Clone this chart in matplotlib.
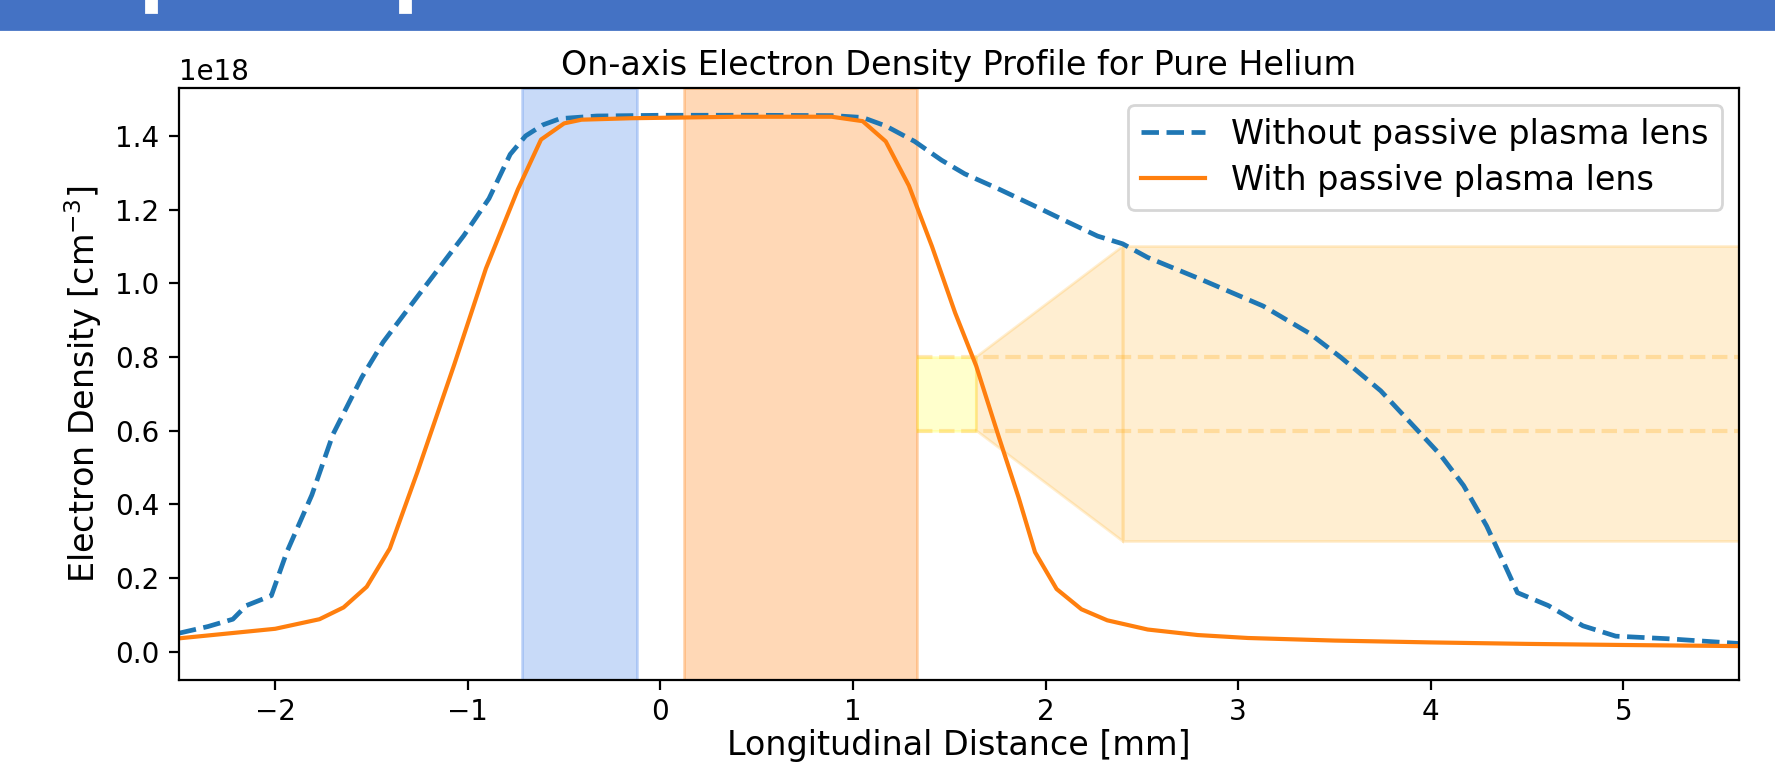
import numpy as np
import matplotlib
matplotlib.use("Agg")
import matplotlib.pyplot as plt
from matplotlib.patches import Polygon, Rectangle

# densities in units of 1e18 cm^-3, distance in mm
x_without = [-2.5, -2.35, -2.22, -2.15, -2.02, -1.94, -1.81, -1.70, -1.55, -1.44,
             -1.26, -1.02, -0.89, -0.78, -0.70, -0.61, -0.52, -0.33, 0.0, 0.5,
             0.9, 1.05, 1.17, 1.32, 1.46, 1.58, 1.76, 1.93, 2.10, 2.27,
             2.40, 2.53, 2.80, 3.13, 3.37, 3.53, 3.74, 3.92, 4.05, 4.17,
             4.29, 4.38, 4.45, 4.61, 4.79, 4.96, 5.23, 5.6]
n_without = [0.050, 0.068, 0.088, 0.125, 0.152, 0.27, 0.425, 0.59, 0.745, 0.84,
             0.965, 1.13, 1.23, 1.35, 1.40, 1.43, 1.447, 1.454, 1.456, 1.456,
             1.455, 1.450, 1.427, 1.385, 1.334, 1.297, 1.255, 1.213, 1.17, 1.128,
             1.107, 1.07, 1.012, 0.938, 0.864, 0.80, 0.708, 0.607, 0.534, 0.451,
             0.341, 0.24, 0.16, 0.125, 0.07, 0.042, 0.035, 0.022]

x_with = [-2.5, -2.0, -1.77, -1.645, -1.525, -1.405, -1.26, -1.07, -0.906, -0.74,
          -0.62, -0.50, -0.41, -0.15, 0.4, 0.89, 1.05, 1.17, 1.29, 1.41,
          1.53, 1.64, 1.755, 1.86, 1.945, 2.057, 2.186, 2.32, 2.53, 2.79,
          3.05, 3.5, 4.0, 4.5, 5.0, 5.6]
n_with = [0.036, 0.062, 0.088, 0.12, 0.176, 0.28, 0.49, 0.78, 1.04, 1.255,
          1.39, 1.434, 1.444, 1.448, 1.452, 1.452, 1.44, 1.385, 1.265, 1.10,
          0.92, 0.775, 0.586, 0.418, 0.27, 0.17, 0.115, 0.085, 0.06, 0.045,
          0.037, 0.030, 0.025, 0.021, 0.018, 0.015]

# shaded regions
blue_span = (-0.72, -0.12)
orange_span = (0.12, 1.33)
yellow_x = (1.33, 1.64)
beam_y = (0.6, 0.8)
cone_x = (1.64, 2.4)
wide_y = (0.3, 1.1)

scale = 1e18

fig = plt.figure(figsize=(8.875, 3.84), dpi=200)
ax = fig.add_axes([0.1008, 0.1146, 0.8789, 0.7708])

# slide header strip
fig.patches.append(Rectangle((0, 1 - 29/768), 1, 29/768, transform=fig.transFigure,
                             color="#4472c4", zorder=0))
for mx in [146, 400]:
    fig.patches.append(Rectangle((mx/1775, 1 - 12/768), 10/1775, 12/768,
                                 transform=fig.transFigure, color="white", zorder=1))

ax.axvspan(*blue_span, color="cornflowerblue", alpha=0.35)
ax.axvspan(*orange_span, color="tab:orange", alpha=0.3)
ax.add_patch(Rectangle((yellow_x[0], beam_y[0] * scale), yellow_x[1] - yellow_x[0],
                       (beam_y[1] - beam_y[0]) * scale, color="yellow", alpha=0.2))
ax.add_patch(Polygon([(cone_x[0], beam_y[1] * scale), (cone_x[1], wide_y[1] * scale),
                      (cone_x[1], wide_y[0] * scale), (cone_x[0], beam_y[0] * scale)],
                     closed=True, color="orange", alpha=0.18))
ax.add_patch(Rectangle((cone_x[1], wide_y[0] * scale), 4, (wide_y[1] - wide_y[0]) * scale,
                       color="orange", alpha=0.18))
for yv in beam_y:
    ax.plot([yellow_x[0], 6], [yv * scale, yv * scale], "--", color="orange", alpha=0.25, lw=1.5)

ax.plot(x_without, np.array(n_without) * scale, "--", color="tab:blue", lw=1.7,
        label="Without passive plasma lens")
ax.plot(x_with, np.array(n_with) * scale, "-", color="tab:orange", lw=1.5,
        label="With passive plasma lens")

ax.set_xlim(-2.5, 5.6)
ax.set_ylim(-0.077 * scale, 1.53 * scale)
ax.tick_params(axis="x", pad=3)
ax.set_title("On-axis Electron Density Profile for Pure Helium", fontsize=12, pad=4.8)
ax.set_xlabel("Longitudinal Distance [mm]", fontsize=12, labelpad=1)
ax.set_ylabel("Electron Density [cm$^{-3}$]", fontsize=12)
ax.legend(loc="upper right", fontsize=12, labelspacing=0.38, handlelength=1.9)

fig.savefig("out.png", dpi=200)
